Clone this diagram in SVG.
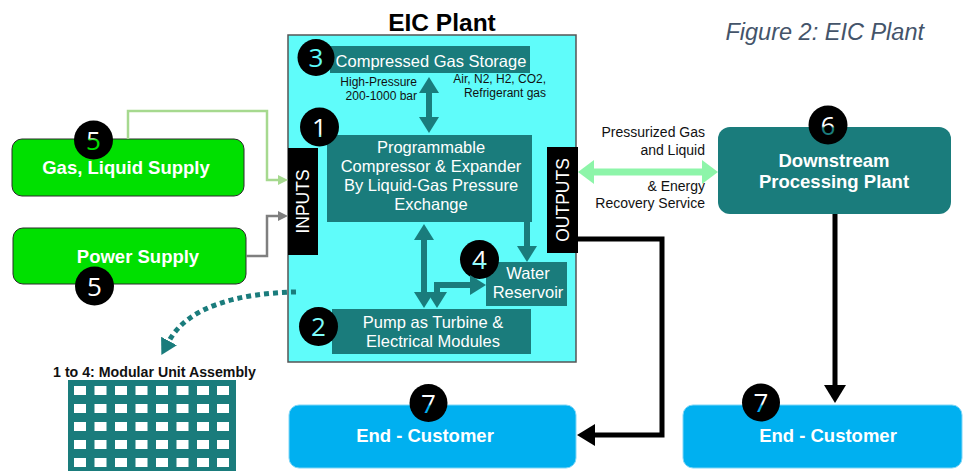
<svg xmlns="http://www.w3.org/2000/svg" width="964" height="471" viewBox="0 0 964 471">
  <style>
    .sans { font-family: "Liberation Sans", Arial, sans-serif; }
    .inner { font-family: "Liberation Sans", Arial, sans-serif; font-size: 16.5px; fill: #ffffff; text-anchor: middle; }
    .note { font-family: "Liberation Sans", Arial, sans-serif; font-size: 12px; fill: #111111; text-anchor: end; }
    .side { font-family: "Liberation Sans", Arial, sans-serif; font-size: 14px; fill: #111111; text-anchor: end; }
    .bold { font-family: "Liberation Sans", Arial, sans-serif; font-weight: bold; fill: #ffffff; text-anchor: middle; font-size: 18.5px; }
    .badge { fill: #000000; }
    .digit { font-family: "Open Sans", "DejaVu Sans", sans-serif; font-size: 26px; text-anchor: middle; }
    .teal { fill: #1a7c7c; }
    .tealArrow { stroke: #1a7c7c; stroke-width: 6; fill: none; }
    .black { stroke: #000000; stroke-width: 5; fill: none; }
  </style>
  <defs>
    <marker id="headTeal" viewBox="0 0 16 20" markerWidth="16" markerHeight="20" refX="0" refY="10" orient="auto-start-reverse" markerUnits="userSpaceOnUse">
      <path d="M0,0 L16,10 L0,20 Z" fill="#1a7c7c"/>
    </marker>
    <marker id="headMint" viewBox="0 0 16 24" markerWidth="16" markerHeight="24" refX="0" refY="12" orient="auto-start-reverse" markerUnits="userSpaceOnUse">
      <path d="M0,0 L16,12 L0,24 Z" fill="#8df5a9"/>
    </marker>
    <marker id="headBlack" viewBox="0 0 18 22" markerWidth="18" markerHeight="22" refX="0" refY="11" orient="auto" markerUnits="userSpaceOnUse">
      <path d="M0,0 L18,11 L0,22 Z" fill="#000000"/>
    </marker>
    <marker id="headGreen" viewBox="0 0 10 10" markerWidth="10" markerHeight="10" refX="0" refY="5" orient="auto" markerUnits="userSpaceOnUse">
      <path d="M0,0 L10,5 L0,10 Z" fill="#a6d98f"/>
    </marker>
    <marker id="headGray" viewBox="0 0 10 10" markerWidth="10" markerHeight="10" refX="0" refY="5" orient="auto" markerUnits="userSpaceOnUse">
      <path d="M0,0 L10,5 L0,10 Z" fill="#7f7f7f"/>
    </marker>
    <marker id="headDot" viewBox="0 0 16 18" markerWidth="16" markerHeight="18" refX="0" refY="9" orient="auto" markerUnits="userSpaceOnUse">
      <path d="M0,0 L16,9 L0,18 Z" fill="#1a7c7c"/>
    </marker>
    <!-- two-tone digit fills: white above the edge of the box they sit on -->
    <linearGradient id="d1" gradientUnits="userSpaceOnUse" x1="0" y1="134" x2="0" y2="136"><stop offset="0" stop-color="#ffffff"/><stop offset="1" stop-color="#7ffcfa"/></linearGradient>
    <linearGradient id="d4" gradientUnits="userSpaceOnUse" x1="0" y1="261" x2="0" y2="263"><stop offset="0" stop-color="#ffffff"/><stop offset="1" stop-color="#8ffcfa"/></linearGradient>
    <linearGradient id="d5" gradientUnits="userSpaceOnUse" x1="0" y1="138" x2="0" y2="140"><stop offset="0" stop-color="#ffffff"/><stop offset="1" stop-color="#00e000"/></linearGradient>
    <linearGradient id="d6" gradientUnits="userSpaceOnUse" x1="0" y1="126" x2="0" y2="128"><stop offset="0" stop-color="#ffffff"/><stop offset="1" stop-color="#1a7c7c"/></linearGradient>
    <linearGradient id="d7" gradientUnits="userSpaceOnUse" x1="0" y1="404" x2="0" y2="406"><stop offset="0" stop-color="#ffffff"/><stop offset="1" stop-color="#00b0f0"/></linearGradient>
  </defs>

  <!-- headings -->
  <text x="442" y="31" class="sans" font-size="24.5" font-weight="bold" text-anchor="middle" fill="#000">EIC Plant</text>
  <text x="924" y="40" class="sans" font-size="23.5" font-style="italic" text-anchor="end" fill="#44546a">Figure 2: EIC Plant</text>

  <!-- plant enclosure -->
  <g id="eic-plant">
    <rect x="288" y="35" width="288" height="327" fill="#5ffcfa" stroke="#555555" stroke-width="1.5"/>
  </g>

  <g id="inputs">
    <rect x="288" y="148" width="30" height="107" fill="#000"/>
    <text transform="translate(303,201.5) rotate(-90)" x="0" y="6" class="sans" font-size="17.5" fill="#fff" text-anchor="middle">INPUTS</text>
  </g>
  <g id="outputs">
    <rect x="547" y="147" width="31" height="106" fill="#000"/>
    <text transform="translate(562.5,200) rotate(-90)" x="0" y="6" class="sans" font-size="17.5" fill="#fff" text-anchor="middle">OUTPUTS</text>
  </g>

  <g id="storage">
    <rect x="330" y="46" width="200" height="27" class="teal"/>
    <text x="431" y="67" class="inner">Compressed Gas Storage</text>
    <text x="417" y="86" class="note">High-Pressure</text>
    <text x="417" y="100" class="note">200-1000 bar</text>
    <text x="546" y="83" class="note">Air, N2, H2, CO2,</text>
    <text x="546" y="97" class="note">Refrigerant gas</text>
    <circle cx="316" cy="57.5" r="18.5" class="badge"/>
    <text x="316" y="67" class="digit" fill="#5ffcfa">3</text>
  </g>

  <g id="compressor">
    <rect x="327" y="135" width="205" height="87" class="teal"/>
    <text x="431" y="153" class="inner">Programmable</text>
    <text x="431" y="172" class="inner">Compressor &amp; Expander</text>
    <text x="431" y="191" class="inner">By Liquid-Gas Pressure</text>
    <text x="431" y="210" class="inner">Exchange</text>
    <circle cx="319.5" cy="127" r="19.5" class="badge"/>
    <text x="319.5" y="136.5" class="digit" fill="url(#d1)">1</text>
  </g>

  <g id="water-reservoir">
    <rect x="486" y="262" width="81" height="44" class="teal"/>
    <text x="528" y="279" class="inner">Water</text>
    <text x="528" y="298" class="inner">Reservoir</text>
    <circle cx="479.5" cy="259.5" r="19.5" class="badge"/>
    <text x="479.5" y="269" class="digit" fill="url(#d4)">4</text>
  </g>

  <g id="pump">
    <rect x="332" y="309" width="199" height="45" class="teal"/>
    <text x="433" y="328" class="inner">Pump as Turbine &amp;</text>
    <text x="433" y="347" class="inner">Electrical Modules</text>
    <circle cx="318.5" cy="326.5" r="19.5" class="badge"/>
    <text x="318.5" y="336" class="digit" fill="#7ffcfa">2</text>
  </g>

  <g id="gas-supply">
    <rect x="12" y="139" width="232" height="57" rx="10" fill="#00e000" stroke="#2a2a2a" stroke-width="1"/>
    <text x="126" y="174" class="bold">Gas, Liquid Supply</text>
    <circle cx="93.5" cy="140" r="19.5" class="badge"/>
    <text x="93.5" y="149.5" class="digit" fill="url(#d5)">5</text>
  </g>

  <g id="power-supply">
    <rect x="13" y="228" width="233" height="56" rx="10" fill="#00e000" stroke="#2a2a2a" stroke-width="1"/>
    <text x="138" y="263" class="bold">Power Supply</text>
    <circle cx="94.5" cy="286" r="19.5" class="badge"/>
    <text x="94.5" y="295.5" class="digit" fill="#ffffff">5</text>
  </g>

  <g id="downstream">
    <rect x="718" y="127" width="233" height="87" rx="12" fill="#1a7c7c"/>
    <text x="834" y="167" class="bold">Downstream</text>
    <text x="834" y="188" class="bold">Processing Plant</text>
    <circle cx="828" cy="125" r="19.5" class="badge"/>
    <text x="828" y="134.5" class="digit" fill="url(#d6)">6</text>
    <text x="705" y="137" class="side">Pressurized Gas</text>
    <text x="705" y="155" class="side">and Liquid</text>
    <text x="705" y="191" class="side">&amp; Energy</text>
    <text x="705" y="208" class="side">Recovery Service</text>
  </g>

  <g id="end-customer-left">
    <rect x="289" y="405" width="287" height="63" rx="10" fill="#00b0f0" stroke="#7fd6f7" stroke-width="1"/>
    <text x="425" y="442" class="bold">End - Customer</text>
    <circle cx="428.5" cy="403" r="19" class="badge"/>
    <text x="428.5" y="412.5" class="digit" fill="url(#d7)">7</text>
  </g>

  <g id="end-customer-right">
    <rect x="683" y="405" width="279" height="63" rx="10" fill="#00b0f0" stroke="#7fd6f7" stroke-width="1"/>
    <text x="828" y="442" class="bold">End - Customer</text>
    <circle cx="761" cy="402.5" r="19" class="badge"/>
    <text x="761" y="412" class="digit" fill="url(#d7)">7</text>
  </g>

  <g id="modular-assembly">
    <text x="154.5" y="377" class="sans" font-size="14.2" font-weight="bold" fill="#111" text-anchor="middle">1 to 4: Modular Unit Assembly</text>
    <rect x="68" y="380" width="168" height="91" fill="#1a7c7c"/>
    <g fill="#ffffff">
      <rect x="74" y="386" width="12" height="9"/><rect x="94.5" y="386" width="12" height="9"/><rect x="115" y="386" width="12" height="9"/><rect x="135.5" y="386" width="12" height="9"/><rect x="156" y="386" width="12" height="9"/><rect x="176.5" y="386" width="12" height="9"/><rect x="197" y="386" width="12" height="9"/><rect x="217" y="386" width="12" height="9"/>
      <rect x="74" y="404" width="12" height="9"/><rect x="94.5" y="404" width="12" height="9"/><rect x="115" y="404" width="12" height="9"/><rect x="135.5" y="404" width="12" height="9"/><rect x="156" y="404" width="12" height="9"/><rect x="176.5" y="404" width="12" height="9"/><rect x="197" y="404" width="12" height="9"/><rect x="217" y="404" width="12" height="9"/>
      <rect x="74" y="422" width="12" height="9"/><rect x="94.5" y="422" width="12" height="9"/><rect x="115" y="422" width="12" height="9"/><rect x="135.5" y="422" width="12" height="9"/><rect x="156" y="422" width="12" height="9"/><rect x="176.5" y="422" width="12" height="9"/><rect x="197" y="422" width="12" height="9"/><rect x="217" y="422" width="12" height="9"/>
      <rect x="74" y="440" width="12" height="9"/><rect x="94.5" y="440" width="12" height="9"/><rect x="115" y="440" width="12" height="9"/><rect x="135.5" y="440" width="12" height="9"/><rect x="156" y="440" width="12" height="9"/><rect x="176.5" y="440" width="12" height="9"/><rect x="197" y="440" width="12" height="9"/><rect x="217" y="440" width="12" height="9"/>
      <rect x="74" y="458" width="12" height="9"/><rect x="94.5" y="458" width="12" height="9"/><rect x="115" y="458" width="12" height="9"/><rect x="135.5" y="458" width="12" height="9"/><rect x="156" y="458" width="12" height="9"/><rect x="176.5" y="458" width="12" height="9"/><rect x="197" y="458" width="12" height="9"/><rect x="217" y="458" width="12" height="9"/>
    </g>
  </g>

  <!-- connectors -->
  <g id="connectors">
    <!-- inside the plant -->
    <line x1="429" y1="93" x2="429" y2="117" class="tealArrow" marker-start="url(#headTeal)" marker-end="url(#headTeal)"/>
    <line x1="424" y1="240" x2="424" y2="292" class="tealArrow" marker-start="url(#headTeal)" marker-end="url(#headTeal)"/>
    <path d="M437,292 L437,285 L470,285" class="tealArrow" marker-start="url(#headTeal)" marker-end="url(#headTeal)"/>
    <line x1="527" y1="222" x2="527" y2="246" class="tealArrow" marker-end="url(#headTeal)"/>

    <!-- supplies into the plant -->
    <polyline points="128,139 128,111 267,111 267,180 278,180" fill="none" stroke="#a6d98f" stroke-width="2.5" marker-end="url(#headGreen)"/>
    <polyline points="246,256 267,256 267,216 278,216" fill="none" stroke="#7f7f7f" stroke-width="2.5" marker-end="url(#headGray)"/>

    <!-- plant to downstream -->
    <line x1="594" y1="172" x2="702" y2="172" stroke="#8df5a9" stroke-width="7" marker-start="url(#headMint)" marker-end="url(#headMint)"/>

    <!-- deliveries to customers -->
    <polyline points="578,239 662,239 662,435 595,435" class="black" marker-end="url(#headBlack)"/>
    <line x1="835" y1="214" x2="835" y2="385" class="black" marker-end="url(#headBlack)"/>

    <!-- plant to modular assembly -->
    <path d="M296,292 C240,293 188,306 169,341" fill="none" stroke="#1a7c7c" stroke-width="5" stroke-dasharray="5 4" marker-end="url(#headDot)"/>
  </g>
</svg>
